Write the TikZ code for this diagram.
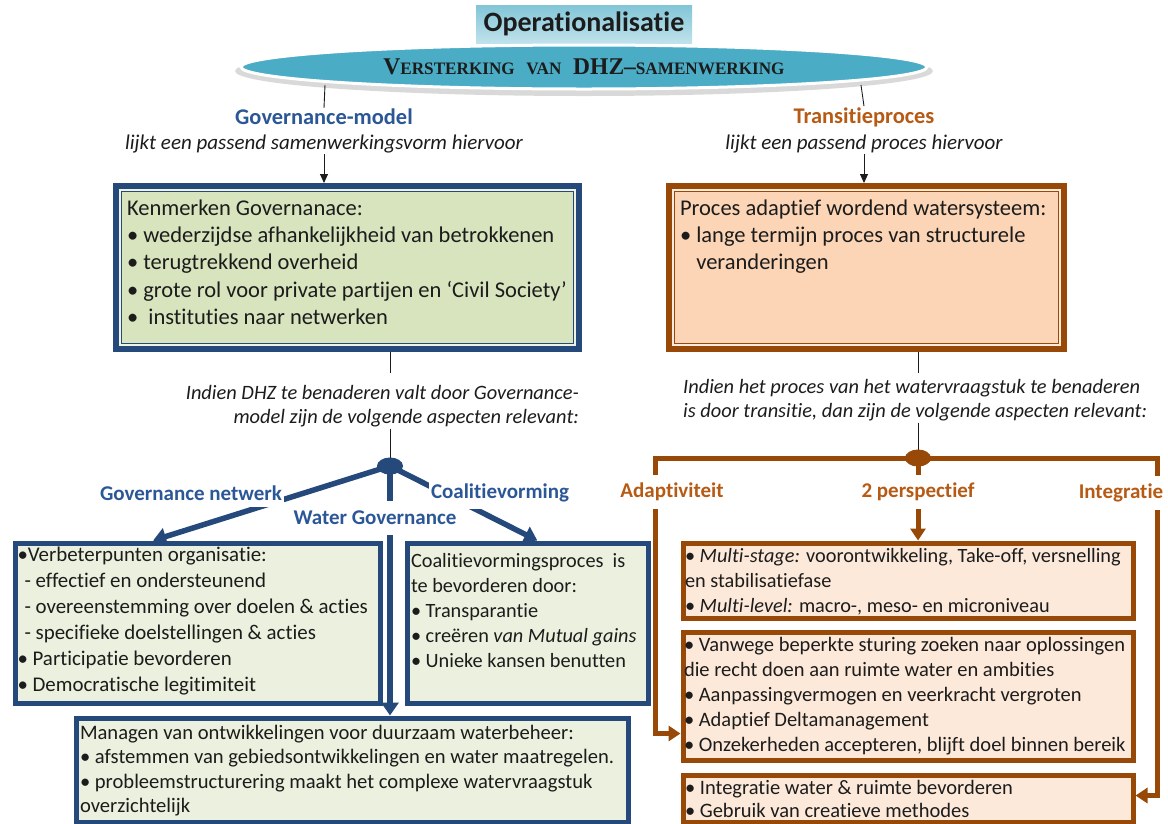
\documentclass[tikz,border=0pt]{standalone}
\usepackage{fontspec}
\usepackage{graphicx}
\setmainfont{Carlito}[Ligatures=CommonOff]
\newfontfamily\bannerfont{Liberation Serif}
\usetikzlibrary{arrows.meta,calc,shapes.geometric}

\definecolor{gblue}{HTML}{24497A}
\definecolor{gtext}{HTML}{2B5797}
\definecolor{gfillA}{HTML}{D7E4BD}
\definecolor{grim}{HTML}{EEF3E4}
\definecolor{gfillB}{HTML}{EBF1DE}
\definecolor{tbrown}{HTML}{984807}
\definecolor{ttext}{HTML}{B65A14}
\definecolor{tfillA}{HTML}{FBD5B5}
\definecolor{trim}{HTML}{FDEBDD}
\definecolor{tfillB}{HTML}{FDE9D9}
\definecolor{bannerteal}{HTML}{4BACC6}
\definecolor{ink}{HTML}{1C1C1C}

% small-caps lettering of the banner
\newcommand{\capL}[1]{{\fontsize{24}{26}\selectfont #1}}
\newcommand{\capS}[1]{{\fontsize{17.5}{26}\selectfont #1}}

\tikzset{
  txt/.style={inner sep=0pt, outer sep=0pt, text=ink, align=left, anchor=north west},
  bigtxt/.style={txt, font=\fontsize{22.5}{27.3}\selectfont},
  smalltxt/.style={txt, font=\fontsize{20.5}{25.5}\selectfont},
  headG/.style={font=\bfseries\fontsize{22.4}{25}\selectfont, text=gtext, inner sep=1pt},
  headT/.style={font=\bfseries\fontsize{22.4}{25}\selectfont, text=ttext, inner sep=1pt},
  subhead/.style={font=\itshape\fontsize{21}{24}\selectfont, text=ink, inner sep=1pt},
  note/.style={font=\itshape\fontsize{20.4}{24.5}\selectfont, text=ink, inner sep=1pt},
  thinline/.style={draw=ink, line width=0.9},
  thinarrow/.style={thinline, -{Triangle[length=9pt,width=8pt]}},
  outerG/.style={rectangle, fill=gblue, inner sep=0pt, outer sep=0pt, anchor=north west},
  outerT/.style={rectangle, fill=tbrown, inner sep=0pt, outer sep=0pt, anchor=north west},
  boxG/.style={rectangle, draw=gblue, line width=5, fill=gfillB, inner sep=0pt, anchor=north west},
  boxT/.style={rectangle, draw=tbrown, line width=5, fill=tfillB, inner sep=0pt, anchor=north west},
  flowG/.style={draw=gblue, line width=5.5},
  flowT/.style={draw=tbrown, line width=5},
  tipG/.style={-{Triangle[length=13pt,width=17pt]}},
  tipT/.style={-{Triangle[length=12pt,width=15pt]}},
  lblG/.style={font=\bfseries\fontsize{21}{24}\selectfont, text=gtext, fill=white, inner xsep=2pt, inner ysep=7pt},
  lblT/.style={font=\bfseries\fontsize{21}{24}\selectfont, text=ttext, fill=white, inner xsep=3pt, inner ysep=8pt},
}

\begin{document}
\begin{tikzpicture}[x=1pt,y=-1pt]
\useasboundingbox[fill=white] (0,0) rectangle (1168,823);

% ---------- title tab and banner ----------
\node[rectangle, minimum width=216, minimum height=38, inner sep=0pt,
      top color=bannerteal!70!white, bottom color=bannerteal!35!white,
      font=\bfseries\fontsize{28}{30}\selectfont, text=ink] (optab) at (584,24) {Operationalisatie};
\fill[gray!30] (584,71) ellipse [x radius=349, y radius=25];
\node[ellipse, minimum width=686, minimum height=44, inner sep=0pt,
      fill=bannerteal, draw=white, line width=3] (banner) at (584,67)
  {\bannerfont\bfseries\color{ink}\scalebox{0.98}[1]{\capL{V}\capS{ERSTERKING}\hspace{12pt}\capS{VAN}\hspace{12pt}\capL{DHZ–}\capS{SAMENWERKING}}};

% ---------- headings ----------
\node[headG] (gm) at (324,117) {Governance-model};
\node[subhead] (gms) at (324,144) {lijkt een passend samenwerkingsvorm hiervoor};
\node[headT] (tp) at (864,117) {Transitieproces};
\node[subhead] (tps) at (864,144) {lijkt een passend proces hiervoor};

\draw[thinline] ($(banner.center)+(-259,18)$) -- (gm.north);
\draw[thinline] ($(banner.center)+(277,18)$) -- (tp.north);

% ---------- top boxes ----------
\node[outerG, minimum width=469, minimum height=169] (g1) at (113,183) {};
\fill[grim] ($(g1.north west)+(6,6)$) rectangle ($(g1.south east)+(-6,-6)$);
\filldraw[fill=gfillA, draw=gblue, line width=1.3] ($(g1.north west)+(8.5,8.5)$) rectangle ($(g1.south east)+(-8.5,-8.5)$);
\node[bigtxt] (g1t) at ($(g1.north west)+(14,16.5)$)
  {Kenmerken Governanace:\\• wederzijdse afhankelijkheid van betrokkenen\\• terugtrekkend overheid\\• grote rol voor private partijen en ‘Civil Society’\\•\ \ instituties naar netwerken};

\node[outerT, minimum width=401, minimum height=169] (t1) at (666,183) {};
\fill[trim] ($(t1.north west)+(6,6)$) rectangle ($(t1.south east)+(-6,-6)$);
\filldraw[fill=tfillA, draw=tbrown, line width=1.3] ($(t1.north west)+(8.5,8.5)$) rectangle ($(t1.south east)+(-8.5,-8.5)$);
\node[bigtxt] (t1t) at ($(t1.north west)+(14,16.5)$)
  {Proces adaptief wordend watersysteem:\\• lange termijn proces van structurele\\\phantom{• }veranderingen};

\draw[thinarrow] (gms.south) -- (gms.south |- g1.north);
\draw[thinarrow] (tps.south) -- (tps.south |- t1.north);

% ---------- notes ----------
\node[note, align=right, anchor=north east] (nG) at (580,384)
  {Indien DHZ te benaderen valt door Governance-\\model zijn de volgende aspecten relevant:};
\node[note, align=left, anchor=north west] (nT) at (682,378)
  {Indien het proces van het watervraagstuk te benaderen\\is door transitie, dan zijn de volgende aspecten relevant:};

\coordinate (gb) at (390,466);
\coordinate (tb) at (918,458);

\draw[thinline] (g1.south -| gb) -- ++(0,21);
\draw[thinline] (nG.south -| gb) -- (gb);
\draw[thinline] (t1.south -| tb) -- ++(0,21);
\draw[thinline] (nT.south -| tb) -- (tb);

% ---------- governance boxes ----------
\node[boxG, minimum width=365, minimum height=160] (g2) at (12.5,540.5) {};
\node[boxG, minimum width=241, minimum height=160] (g3) at (404.5,540.5) {};
\node[boxG, minimum width=552, minimum height=104] (g4) at (73.5,715.5) {};

\node[smalltxt, font=\fontsize{20.9}{26}\selectfont] (g2t) at (17.5,547)
  {•Verbeterpunten organisatie:\\\hspace*{7pt}- effectief en ondersteunend\\\hspace*{7pt}- overeenstemming over doelen \& acties\\\hspace*{7pt}- specifieke doelstellingen \& acties\\• Participatie bevorderen\\• Democratische legitimiteit};
\node[smalltxt, font=\fontsize{20.3}{25}\selectfont] (g3t) at (411,553.5)
  {Coalitievormingsproces\ \ is\\te bevorderen door:\\• Transparantie\\• creëren \textit{van Mutual gains}\\• Unieke kansen benutten};
\node[smalltxt, font=\fontsize{20.6}{24.5}\selectfont] (g4t) at (80,725)
  {Managen van ontwikkelingen voor duurzaam waterbeheer:\\• afstemmen van gebiedsontwikkelingen en water maatregelen.\\• probleemstructurering maakt het complexe watervraagstuk\\overzichtelijk};

% governance connectors
\draw[flowG, tipG] (gb) -- ($(g2.north west)!0.38!(g2.north east)$);
\draw[flowG, tipG] (gb) -- ($(g3.north west)!0.54!(g3.north east)$);
\draw[flowG, tipG] (gb) -- (gb |- g4.north);
\node[ellipse, fill=gblue, minimum width=26, minimum height=17, inner sep=0pt] (gblob) at (gb) {};
\node[lblG] (lgn) at (191,493) {Governance netwerk};
\node[lblG] (lco) at (500,493) {Coalitievorming};
\node[lblG, inner ysep=10pt] (lwg) at (375,518) {Water Governance};

% ---------- transition boxes ----------
\node[boxT, minimum width=450, minimum height=75] (tA) at (680.5,540.5) {};
\node[boxT, minimum width=450, minimum height=128] (tB) at (680.5,629.5) {};
\node[boxT, minimum width=450, minimum height=47] (tC) at (680.5,772.5) {};

\node[smalltxt, font=\fontsize{20.3}{25}\selectfont] (tAt) at (685,548.5)
  {• \textit{Multi-stage:} voorontwikkeling, Take-off, versnelling\\en stabilisatiefase\\• \textit{Multi-level:} macro-, meso- en microniveau};
\node[smalltxt, font=\fontsize{20.5}{25}\selectfont] (tBt) at (684,637)
  {• Vanwege beperkte sturing zoeken naar oplossingen\\die recht doen aan ruimte water en ambities\\• Aanpassingvermogen en veerkracht vergroten\\• Adaptief Deltamanagement\\• Onzekerheden accepteren, blijft doel binnen bereik};
\node[smalltxt, font=\fontsize{20.5}{23.5}\selectfont] (tCt) at (685,780)
  {• Integratie water \& ruimte bevorderen\\• Gebruik van creatieve methodes};

% transition connectors
\coordinate (aL) at (655,458);
\coordinate (aR) at (1157,458);
\coordinate (bIn) at ($(tB.south west)+(0,-29)$);
\coordinate (cIn) at ($(tC.north east)+(0,23)$);
\draw[flowT, tipT] (tb) -- (aL) -- (aL |- bIn) -- (bIn);
\draw[flowT, tipT] (tb) -- (aR) -- (aR |- cIn) -- (cIn);
\draw[flowT, tipT] (tb) -- (tb |- tA.north);
\node[ellipse, fill=tbrown, minimum width=26, minimum height=17, inner sep=0pt] (tblob) at (tb) {};
\node[lblT] (lad) at (672,492) {Adaptiviteit};
\node[lblT] (lpe) at (918,492) {2 perspectief};
\node[lblT] (lin) at (1121,493) {Integratie};
\end{tikzpicture}
\end{document}
